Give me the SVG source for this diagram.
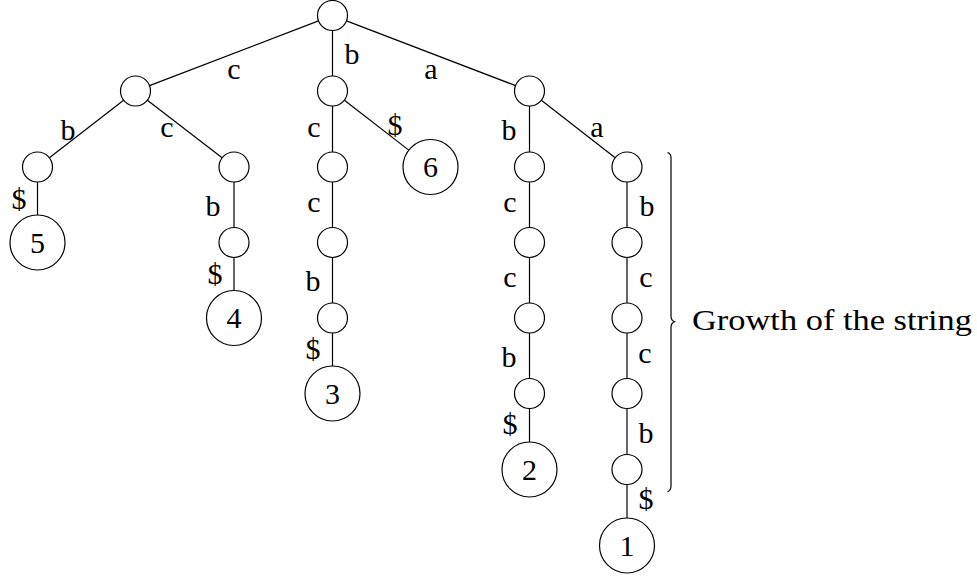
<svg xmlns="http://www.w3.org/2000/svg" width="977" height="576" viewBox="0 0 977 576">
<style>
.n{fill:#fff;stroke:#000;stroke-width:1.2}
.e line{stroke:#000;stroke-width:1.2}
text{font-family:"Liberation Serif","Times New Roman",serif;font-size:30px;fill:#000;text-anchor:middle}
.br{fill:none;stroke:#000;stroke-width:1.2}
</style>
<rect width="977" height="576" fill="#fff"/>
<g id="edges" class="e">
<line x1="318.5" y1="20.9" x2="149.5" y2="85.6"/>
<line x1="332.5" y1="30.5" x2="332.5" y2="76"/>
<line x1="346.5" y1="20.9" x2="515.5" y2="85.6"/>
<line x1="123.6" y1="100.2" x2="49.4" y2="157.8"/>
<line x1="147.4" y1="100.2" x2="222.1" y2="157.8"/>
<line x1="37.5" y1="182" x2="37.5" y2="215"/>
<line x1="234" y1="182" x2="234" y2="227.5"/>
<line x1="234" y1="257.5" x2="234" y2="290.5"/>
<line x1="332.5" y1="106" x2="332.5" y2="152"/>
<line x1="344.4" y1="100.2" x2="408.8" y2="150.1"/>
<line x1="332.5" y1="182" x2="332.5" y2="227.5"/>
<line x1="332.5" y1="257.5" x2="332.5" y2="303"/>
<line x1="332.5" y1="333" x2="332.5" y2="366"/>
<line x1="529.5" y1="106" x2="529.5" y2="152"/>
<line x1="541.3" y1="100.2" x2="615.2" y2="157.8"/>
<line x1="529.5" y1="182" x2="529.5" y2="227.5"/>
<line x1="529.5" y1="257.5" x2="529.5" y2="303"/>
<line x1="529.5" y1="333" x2="529.5" y2="378.5"/>
<line x1="529.5" y1="408.5" x2="529.5" y2="442"/>
<line x1="627" y1="182" x2="627" y2="227.5"/>
<line x1="627" y1="257.5" x2="627" y2="303"/>
<line x1="627" y1="333" x2="627" y2="378.5"/>
<line x1="627" y1="408.5" x2="627" y2="454.5"/>
<line x1="627" y1="484.5" x2="627" y2="518"/>
</g>
<g id="edge-labels">
<text x="234" y="79">c</text>
<text x="352" y="64">b</text>
<text x="431" y="79">a</text>
<text x="68" y="140">b</text>
<text x="167" y="137">c</text>
<text x="19" y="209">$</text>
<text x="213" y="216">b</text>
<text x="215" y="284">$</text>
<text x="314" y="137">c</text>
<text x="395" y="135">$</text>
<text x="314" y="212">c</text>
<text x="313" y="291">b</text>
<text x="313" y="359">$</text>
<text x="509" y="140">b</text>
<text x="597" y="137">a</text>
<text x="510" y="212">c</text>
<text x="647" y="216">b</text>
<text x="510" y="287">c</text>
<text x="646" y="287">c</text>
<text x="509" y="367">b</text>
<text x="510" y="434">$</text>
<text x="645" y="363">c</text>
<text x="646" y="443">b</text>
<text x="646" y="509">$</text>
</g>
<g id="root"><circle class="n" cx="332.5" cy="15.5" r="15"/></g>
<g id="n-c"><circle class="n" cx="135.5" cy="91" r="15"/></g>
<g id="n-b"><circle class="n" cx="332.5" cy="91" r="15"/></g>
<g id="n-a"><circle class="n" cx="529.5" cy="91" r="15"/></g>
<g id="n-cb"><circle class="n" cx="37.5" cy="167" r="15"/></g>
<g id="n-cc"><circle class="n" cx="234" cy="167" r="15"/></g>
<g id="leaf5"><circle class="n" cx="37.5" cy="242.5" r="27.5"/><text x="37.5" y="252.5">5</text></g>
<g id="n-ccb"><circle class="n" cx="234" cy="242.5" r="15"/></g>
<g id="leaf4"><circle class="n" cx="234" cy="318" r="27.5"/><text x="234" y="328">4</text></g>
<g id="n-bc"><circle class="n" cx="332.5" cy="167" r="15"/></g>
<g id="leaf6"><circle class="n" cx="430.5" cy="167" r="27.5"/><text x="430.5" y="177">6</text></g>
<g id="n-bcc"><circle class="n" cx="332.5" cy="242.5" r="15"/></g>
<g id="n-bccb"><circle class="n" cx="332.5" cy="318" r="15"/></g>
<g id="leaf3"><circle class="n" cx="332.5" cy="393.5" r="27.5"/><text x="332.5" y="403.5">3</text></g>
<g id="n-ab"><circle class="n" cx="529.5" cy="167" r="15"/></g>
<g id="n-abc"><circle class="n" cx="529.5" cy="242.5" r="15"/></g>
<g id="n-abcc"><circle class="n" cx="529.5" cy="318" r="15"/></g>
<g id="n-abccb"><circle class="n" cx="529.5" cy="393.5" r="15"/></g>
<g id="leaf2"><circle class="n" cx="529.5" cy="469.5" r="27.5"/><text x="529.5" y="479.5">2</text></g>
<g id="n-aa"><circle class="n" cx="627" cy="167" r="15"/></g>
<g id="n-aab"><circle class="n" cx="627" cy="242.5" r="15"/></g>
<g id="n-aabc"><circle class="n" cx="627" cy="318" r="15"/></g>
<g id="n-aabcc"><circle class="n" cx="627" cy="393.5" r="15"/></g>
<g id="n-aabccb"><circle class="n" cx="627" cy="469.5" r="15"/></g>
<g id="leaf1"><circle class="n" cx="627" cy="545.5" r="27.5"/><text x="627" y="555.5">1</text></g>
<g id="brace">
<path class="br" d="M 667.5 152.5 Q 671 153.5 671 158 L 671 316 Q 671 320.5 674.5 321.7 Q 671 323 671 327.5 L 671 486 Q 671 490.5 667.5 491.7"/>
<text x="692" y="330" style="text-anchor:start" textLength="280" lengthAdjust="spacingAndGlyphs">Growth of the string</text>
</g>
</svg>
